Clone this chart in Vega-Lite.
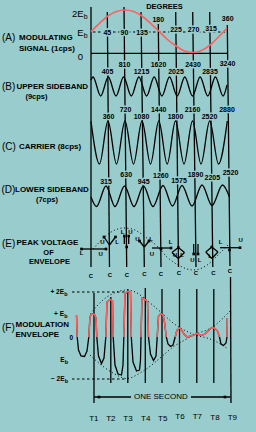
{
"$schema": "https://vega.github.io/schema/vega-lite/v6.json",
"width": 256, "height": 432,
"autosize": {"type": "fit", "contains": "padding"},
"padding": 0,
"background": "#99cccc",
"config": {"view": {"stroke": null}},
"datasets": {
"vl": [
{"x":91,"y":7,"x2":91,"y2":267},{"x":107.3,"y":12,"x2":109.5,"y2":267},{"x":124,"y":7,"x2":126.7,"y2":267},
{"x":141,"y":12,"x2":144.3,"y2":267},{"x":158.3,"y":24,"x2":161,"y2":267},{"x":175.7,"y":12,"x2":178.5,"y2":267},
{"x":192.7,"y":12,"x2":196,"y2":267},{"x":209.7,"y":12,"x2":212.8,"y2":267},{"x":227.3,"y":25,"x2":230,"y2":266},
{"x":94,"y":293,"x2":94,"y2":403},{"x":110.8,"y":297,"x2":110.8,"y2":383},{"x":127.8,"y":289,"x2":127.8,"y2":383},
{"x":145.3,"y":288,"x2":145.3,"y2":383},{"x":162,"y":289,"x2":162,"y2":383},{"x":179.5,"y":289,"x2":179.5,"y2":383},
{"x":196.8,"y":289,"x2":196.8,"y2":383},{"x":213.8,"y":289,"x2":213.8,"y2":383},{"x":230.5,"y":277,"x2":231,"y2":403}
],
"solid": [
{"x":91,"y":53.3,"x2":227.5,"y2":53.3},
{"x":91,"y":249,"x2":81.5,"y2":249},{"x":91,"y":249,"x2":106,"y2":249},
{"x":109.5,"y":245,"x2":104,"y2":237},{"x":109.5,"y":245,"x2":115.5,"y2":237},
{"x":124.3,"y":244,"x2":124.3,"y2":236},{"x":128.7,"y":244,"x2":128.7,"y2":236},
{"x":144.3,"y":247,"x2":139.5,"y2":241},{"x":144.3,"y":247,"x2":149,"y2":241},
{"x":161,"y":248,"x2":152,"y2":248},{"x":161,"y":248,"x2":171,"y2":248},
{"x":178.3,"y":247.5,"x2":172,"y2":252.5},{"x":172,"y":252.5,"x2":178.3,"y2":258.5},{"x":178.3,"y":258.5,"x2":184.5,"y2":252.5},{"x":184.5,"y":252.5,"x2":178.3,"y2":247.5},
{"x":193.7,"y":244,"x2":193.7,"y2":254},{"x":198,"y":244,"x2":198,"y2":254},
{"x":211.8,"y":247,"x2":205.8,"y2":252},{"x":205.8,"y":252,"x2":211.8,"y2":258.5},{"x":211.8,"y":258.5,"x2":218,"y2":252},{"x":218,"y":252,"x2":211.8,"y2":247},
{"x":230,"y":247.7,"x2":220,"y2":247.7},{"x":230,"y":247.7,"x2":240,"y2":247.7},
{"x":94,"y":397,"x2":131,"y2":397},{"x":191,"y":397,"x2":230.5,"y2":397}
],
"dash": [
{"x":93,"y":32,"x2":225,"y2":32},{"x":72,"y":292,"x2":129,"y2":292},{"x":72,"y":379,"x2":128,"y2":379}
],
"sineA": [
{"x":91,"y":31.5},{"x":99.5,"y":23.3},{"x":108,"y":16},{"x":116.5,"y":11.5},{"x":125,"y":10},{"x":133.5,"y":11.5},
{"x":142,"y":16},{"x":150.5,"y":23.3},{"x":159,"y":31.3},{"x":167.5,"y":39.5},{"x":176,"y":46},{"x":184.5,"y":51},
{"x":193,"y":52.5},{"x":201.5,"y":50.5},{"x":210,"y":45},{"x":218.5,"y":37},{"x":227,"y":28}
],
"waveB": [
{"x":91,"y":80},{"x":93,"y":77},{"x":100.7,"y":96},{"x":108.3,"y":77},{"x":116,"y":96},{"x":123.6,"y":77},
{"x":131.3,"y":96},{"x":138.9,"y":77},{"x":146.6,"y":96},{"x":154.2,"y":77},{"x":161.9,"y":96},{"x":169.5,"y":77},
{"x":177.2,"y":96},{"x":184.8,"y":77},{"x":192.5,"y":96},{"x":200.1,"y":77},{"x":207.8,"y":96},{"x":215.4,"y":77},
{"x":223.1,"y":96},{"x":227,"y":85}
],
"waveC": [
{"x":91,"y":121.5},{"x":99.5,"y":164},{"x":108,"y":121},{"x":116.5,"y":164},{"x":125,"y":121},{"x":133.5,"y":164},
{"x":142,"y":121},{"x":150.5,"y":164},{"x":158.8,"y":121},{"x":167.2,"y":164},{"x":175.5,"y":121},{"x":184,"y":164},
{"x":192.5,"y":121},{"x":201,"y":164},{"x":209.7,"y":121},{"x":218.5,"y":164},{"x":227.3,"y":121}
],
"waveD": [
{"x":91,"y":197},{"x":96.5,"y":206.5},{"x":106,"y":186},{"x":115,"y":206.5},{"x":124.5,"y":186},{"x":134,"y":206.5},
{"x":143.5,"y":186},{"x":153,"y":206.5},{"x":163,"y":185.5},{"x":172.5,"y":206},{"x":182,"y":185.5},{"x":192,"y":206},
{"x":202,"y":185},{"x":212,"y":205.5},{"x":222.5,"y":185},{"x":229.5,"y":197}
],
"waveF": [
{"x":76.5,"y":315},{"x":77.2,"y":337},{"x":78.5,"y":350},{"x":81,"y":356},{"x":84.5,"y":356.5},{"x":87,"y":351},
{"x":88.8,"y":337},{"x":90,"y":317},{"x":91.5,"y":314},{"x":94.5,"y":314.5},{"x":96,"y":318},{"x":96.8,"y":337},
{"x":98.5,"y":356},{"x":101.5,"y":363.5},{"x":104,"y":358},{"x":105.8,"y":337},{"x":107,"y":302},{"x":110,"y":299.5},
{"x":112.5,"y":301},{"x":113.2,"y":337},{"x":115,"y":365},{"x":118,"y":374},{"x":121.5,"y":375},{"x":123,"y":365},
{"x":123.8,"y":337},{"x":125,"y":294},{"x":127.5,"y":291.5},{"x":130.5,"y":292.5},{"x":131.3,"y":337},{"x":133,"y":362},
{"x":136.5,"y":371},{"x":139.5,"y":370},{"x":140.5,"y":360},{"x":141,"y":337},{"x":142,"y":298},{"x":145,"y":299.5},
{"x":147.5,"y":302},{"x":148.5,"y":337},{"x":150.5,"y":354},{"x":153.5,"y":360.5},{"x":156,"y":356},{"x":157.2,"y":337},
{"x":158.5,"y":316},{"x":161,"y":313.5},{"x":163,"y":315},{"x":164.5,"y":322},{"x":166.3,"y":337},{"x":168,"y":344},
{"x":170.5,"y":346.5},{"x":173,"y":345},{"x":175.2,"y":337},{"x":177,"y":330},{"x":179.5,"y":328},{"x":181.5,"y":330},
{"x":184,"y":334},{"x":187,"y":337},{"x":190,"y":336},{"x":194,"y":335},{"x":197,"y":333.5},{"x":201,"y":335.5},
{"x":205,"y":334},{"x":209,"y":330},{"x":212,"y":327.5},{"x":215,"y":328.5},{"x":217.5,"y":331},{"x":219.5,"y":337},
{"x":221,"y":344},{"x":223.5,"y":345.5},{"x":226,"y":343},{"x":227,"y":337},{"x":227.3,"y":318}
],
"redF": [
{"s":1,"x":76.5,"y":315},{"s":1,"x":77.2,"y":337},
{"s":2,"x":88.8,"y":337},{"s":2,"x":90,"y":317},{"s":2,"x":91.5,"y":314},{"s":2,"x":94.5,"y":314.5},{"s":2,"x":96,"y":318},{"s":2,"x":96.8,"y":337},
{"s":3,"x":105.8,"y":337},{"s":3,"x":107,"y":302},{"s":3,"x":110,"y":299.5},{"s":3,"x":112.5,"y":301},{"s":3,"x":113.2,"y":337},
{"s":4,"x":123.8,"y":337},{"s":4,"x":125,"y":294},{"s":4,"x":127.5,"y":291.5},{"s":4,"x":130.5,"y":292.5},{"s":4,"x":131.3,"y":337},
{"s":5,"x":141,"y":337},{"s":5,"x":142,"y":298},{"s":5,"x":145,"y":299.5},{"s":5,"x":147.5,"y":302},{"s":5,"x":148.5,"y":337},
{"s":6,"x":157.2,"y":337},{"s":6,"x":158.5,"y":316},{"s":6,"x":161,"y":313.5},{"s":6,"x":163,"y":315},{"s":6,"x":164.5,"y":322},{"s":6,"x":166.3,"y":337},
{"s":7,"x":175.2,"y":337},{"s":7,"x":177,"y":330},{"s":7,"x":179.5,"y":328},{"s":7,"x":181.5,"y":330},{"s":7,"x":184,"y":334},{"s":7,"x":187,"y":337},
{"s":7,"x":190,"y":336},{"s":7,"x":194,"y":335},{"s":7,"x":197,"y":333.5},{"s":7,"x":201,"y":335.5},{"s":7,"x":205,"y":334},{"s":7,"x":209,"y":330},
{"s":7,"x":212,"y":327.5},{"s":7,"x":215,"y":328.5},{"s":7,"x":217.5,"y":331},{"s":7,"x":219.5,"y":337},
{"s":8,"x":227,"y":337},{"s":8,"x":227.3,"y":318}
],
"envE": [
{"x":93,"y":249},{"x":99.5,"y":242},{"x":107,"y":235},{"x":115,"y":230},{"x":123.5,"y":228},{"x":132,"y":229},
{"x":140,"y":233},{"x":148,"y":239},{"x":157,"y":246},{"x":167,"y":257},{"x":180,"y":266},{"x":193,"y":270},
{"x":206.5,"y":265.5},{"x":218,"y":255},{"x":230,"y":243}
],
"envF": [
{"s":"u","x":90.5,"y":314},{"s":"u","x":97,"y":306},{"s":"u","x":103,"y":300},{"s":"u","x":112,"y":294},{"s":"u","x":120,"y":291},
{"s":"u","x":127.5,"y":290},{"s":"u","x":135,"y":292},{"s":"u","x":143,"y":297},{"s":"u","x":152,"y":304.5},{"s":"u","x":163,"y":314},
{"s":"u","x":175,"y":324.5},{"s":"u","x":187,"y":331.5},{"s":"u","x":197,"y":335.5},{"s":"u","x":207,"y":338},{"s":"u","x":217,"y":342},{"s":"u","x":228,"y":349},
{"s":"l","x":90,"y":355},{"s":"l","x":100,"y":364},{"s":"l","x":113,"y":373},{"s":"l","x":127,"y":378.5},{"s":"l","x":140,"y":373},
{"s":"l","x":153,"y":364},{"s":"l","x":163,"y":355.5},{"s":"l","x":173,"y":347},{"s":"l","x":183,"y":341},{"s":"l","x":190,"y":337},
{"s":"l","x":200,"y":332.5},{"s":"l","x":207,"y":330},{"s":"l","x":214,"y":326},{"s":"l","x":220,"y":321},{"s":"l","x":230,"y":311}
],
"tips": [
{"x":81.5,"y":249},{"x":106,"y":249},{"x":104,"y":237},{"x":115.5,"y":237},{"x":124.3,"y":236},{"x":128.7,"y":236},
{"x":139.5,"y":241},{"x":149,"y":241},{"x":171,"y":248},{"x":161,"y":249},{"x":193.7,"y":254},{"x":198,"y":254},
{"x":240,"y":247.7},{"x":178.3,"y":247.5},{"x":211.8,"y":247},{"x":126.7,"y":247},{"x":229.5,"y":250},
{"x":99,"y":397},{"x":225,"y":397}
],
"nums": [
{"t":"45","x":107.3,"y":32.5},{"t":"90","x":124.5,"y":32.5},{"t":"135","x":142,"y":32.5},{"t":"180","x":158.3,"y":20},
{"t":"225","x":176,"y":30},{"t":"270","x":193.5,"y":29.5},{"t":"315","x":211,"y":29},{"t":"360","x":227.7,"y":18.5},
{"t":"405","x":107.5,"y":71.5},{"t":"810","x":124.5,"y":64.5},{"t":"1215","x":141.5,"y":71.5},{"t":"1620","x":158.5,"y":64.5},
{"t":"2025","x":176,"y":71.5},{"t":"2430","x":193,"y":64.5},{"t":"2835","x":210,"y":71.5},{"t":"3240","x":227.5,"y":63.5},
{"t":"360","x":108.5,"y":116.5},{"t":"720","x":125.5,"y":110},{"t":"1080","x":141.5,"y":116.5},{"t":"1440","x":158.7,"y":110},
{"t":"1800","x":175.5,"y":116.5},{"t":"2160","x":192.5,"y":110},{"t":"2520","x":209.5,"y":116.5},{"t":"2880","x":227,"y":110},
{"t":"315","x":106,"y":181.5},{"t":"630","x":126.2,"y":175},{"t":"945","x":143.7,"y":181.5},{"t":"1260","x":160.8,"y":175.5},
{"t":"1575","x":179,"y":181},{"t":"1890","x":195.5,"y":175},{"t":"2205","x":212.3,"y":178},{"t":"2520","x":230.5,"y":172.5}
],
"titlesL": [
{"t":"MODULATING","x":19,"y":38},{"t":"SIGNAL (1cps)","x":19,"y":48.5},{"t":"UPPER SIDEBAND","x":16.5,"y":87},
{"t":"CARRIER (8cps)","x":19,"y":146.5},{"t":"LOWER SIDEBAND","x":15,"y":190},{"t":"PEAK VOLTAGE","x":16.5,"y":243},
{"t":"MODULATION","x":15.5,"y":325},{"t":"ENVELOPE","x":15.5,"y":334.5}
],
"titlesC": [
{"t":"(9cps)","x":36.5,"y":96.5},{"t":"(7cps)","x":47,"y":199.5},{"t":"OF","x":48.5,"y":252.5},{"t":"ENVELOPE","x":49.5,"y":261.5},
{"t":"DEGREES","x":164.5,"y":6.5}
],
"letters": [
{"t":"(A)","x":2,"y":38},{"t":"(B)","x":2,"y":87},{"t":"(C)","x":2,"y":146.5},{"t":"(D)","x":1.5,"y":190},
{"t":"(E)","x":2,"y":243.5},{"t":"(F)","x":2,"y":328}
],
"eLab": [
{"t":"L","x":81.7,"y":253},{"t":"U","x":100.7,"y":253.5},{"t":"U","x":102.5,"y":241.5},{"t":"L","x":117,"y":242},
{"t":"L","x":122.5,"y":232},{"t":"U","x":130.5,"y":232},{"t":"U","x":137.5,"y":238.5},{"t":"L","x":151,"y":238.5},
{"t":"U","x":152,"y":254},{"t":"L","x":170.5,"y":242},{"t":"U","x":175,"y":255},{"t":"L","x":182,"y":255},
{"t":"U","x":192.5,"y":259.5},{"t":"L","x":199.5,"y":259.5},{"t":"L","x":210,"y":256},{"t":"L","x":220.5,"y":241.5},
{"t":"U","x":240.7,"y":240},
{"t":"C","x":91,"y":275.5},{"t":"C","x":110,"y":274.5},{"t":"C","x":126.8,"y":274.5},{"t":"C","x":144.5,"y":273.5},
{"t":"C","x":161,"y":273.5},{"t":"C","x":179,"y":273},{"t":"C","x":196,"y":272.5},{"t":"C","x":213.3,"y":272.5},{"t":"C","x":230,"y":271}
],
"ebA": [
{"t":"2E","x":83.5,"y":13.5},{"t":"E","x":83.5,"y":33},{"t":"0","x":83,"y":56.5}
],
"ebAsub": [
{"t":"b","x":83.7,"y":16.5},{"t":"b","x":83.7,"y":35.5}
],
"ebF": [
{"t":"+ 2E","x":64,"y":292},{"t":"+ E","x":64,"y":314},{"t":"0","x":73,"y":337.5},{"t":"E","x":64.5,"y":359.5},{"t":"− 2E","x":64.5,"y":379}
],
"ebFsub": [
{"t":"b","x":64.2,"y":294},{"t":"b","x":64.2,"y":316},{"t":"b","x":64.7,"y":361.5},{"t":"b","x":64.7,"y":381}
],
"tlab": [
{"t":"T1","x":93.8,"y":418.5},{"t":"T2","x":110.8,"y":418.5},{"t":"T3","x":128,"y":418.5},{"t":"T4","x":145.7,"y":418.5},
{"t":"T5","x":162.7,"y":418.5},{"t":"T6","x":180,"y":417},{"t":"T7","x":197.3,"y":417},{"t":"T8","x":215,"y":418},
{"t":"T9","x":232.3,"y":417.5},{"t":"ONE SECOND","x":160.8,"y":397}
]
},
"encoding": {
"x": {"field": "x", "type": "quantitative", "scale": {"domain": [0, 256], "nice": false, "zero": false}, "axis": null},
"y": {"field": "y", "type": "quantitative", "scale": {"domain": [0, 432], "reverse": true, "nice": false, "zero": false}, "axis": null}
},
"layer": [
{"data": {"name": "vl"}, "mark": {"type": "rule", "color": "#000", "strokeWidth": 1.3},
 "encoding": {"x2": {"field": "x2"}, "y2": {"field": "y2"}}},
{"data": {"name": "dash"}, "mark": {"type": "rule", "color": "#000", "strokeWidth": 1, "strokeDash": [2.5, 2.5]},
 "encoding": {"x2": {"field": "x2"}, "y2": {"field": "y2"}}},
{"data": {"name": "solid"}, "mark": {"type": "rule", "color": "#000", "strokeWidth": 1.3},
 "encoding": {"x2": {"field": "x2"}, "y2": {"field": "y2"}}},
{"data": {"name": "envE"}, "mark": {"type": "line", "color": "#000", "strokeWidth": 1, "strokeDash": [1, 2.5], "interpolate": "monotone"}, "encoding": {}},
{"data": {"name": "envF"}, "mark": {"type": "line", "color": "#000", "strokeWidth": 1, "strokeDash": [1, 2.5], "interpolate": "monotone"},
 "encoding": {"detail": {"field": "s"}}},
{"data": {"name": "nums"}, "mark": {"type": "text", "font": "Liberation Sans", "fontWeight": "bold", "fontSize": 7, "align": "center", "baseline": "middle", "stroke": "#99cccc", "strokeWidth": 3},
 "encoding": {"text": {"field": "t"}}},
{"data": {"name": "nums"}, "mark": {"type": "text", "font": "Liberation Sans", "fontWeight": "bold", "fontSize": 7, "align": "center", "baseline": "middle", "color": "#000"},
 "encoding": {"text": {"field": "t"}}},
{"data": {"name": "sineA"}, "mark": {"type": "line", "color": "#ff5f5f", "strokeWidth": 1.6, "interpolate": "monotone"}, "encoding": {}},
{"data": {"name": "waveB"}, "mark": {"type": "line", "color": "#000", "strokeWidth": 1.3, "interpolate": "monotone"}, "encoding": {}},
{"data": {"name": "waveC"}, "mark": {"type": "line", "color": "#000", "strokeWidth": 1.3, "interpolate": "monotone"}, "encoding": {}},
{"data": {"name": "waveD"}, "mark": {"type": "line", "color": "#000", "strokeWidth": 1.3, "interpolate": "monotone"}, "encoding": {}},
{"data": {"name": "waveF"}, "mark": {"type": "line", "color": "#000", "strokeWidth": 1.3}, "encoding": {}},
{"data": {"name": "redF"}, "mark": {"type": "line", "color": "#ff5f5f", "strokeWidth": 1.6},
 "encoding": {"detail": {"field": "s"}}},
{"data": {"name": "tips"}, "mark": {"type": "point", "shape": "square", "filled": true, "color": "#000", "size": 7, "opacity": 1}, "encoding": {}},
{"data": {"name": "titlesL"}, "mark": {"type": "text", "font": "Liberation Sans", "fontWeight": "bold", "fontSize": 8, "align": "left", "baseline": "middle", "color": "#000"},
 "encoding": {"text": {"field": "t"}}},
{"data": {"name": "titlesC"}, "mark": {"type": "text", "font": "Liberation Sans", "fontWeight": "bold", "fontSize": 7.5, "align": "center", "baseline": "middle", "color": "#000"},
 "encoding": {"text": {"field": "t"}}},
{"data": {"name": "letters"}, "mark": {"type": "text", "font": "Liberation Sans", "fontSize": 10, "align": "left", "baseline": "middle", "color": "#000"},
 "encoding": {"text": {"field": "t"}}},
{"data": {"name": "eLab"}, "mark": {"type": "text", "font": "Liberation Sans", "fontWeight": "bold", "fontSize": 6, "align": "center", "baseline": "middle", "color": "#000"},
 "encoding": {"text": {"field": "t"}}},
{"data": {"name": "ebA"}, "mark": {"type": "text", "font": "Liberation Sans", "fontSize": 9.5, "align": "right", "baseline": "middle", "color": "#000"},
 "encoding": {"text": {"field": "t"}}},
{"data": {"name": "ebAsub"}, "mark": {"type": "text", "font": "Liberation Sans", "fontSize": 7, "align": "left", "baseline": "middle", "color": "#000"},
 "encoding": {"text": {"field": "t"}}},
{"data": {"name": "ebF"}, "mark": {"type": "text", "font": "Liberation Sans", "fontWeight": "bold", "fontSize": 6.5, "align": "right", "baseline": "middle", "color": "#000"},
 "encoding": {"text": {"field": "t"}}},
{"data": {"name": "ebFsub"}, "mark": {"type": "text", "font": "Liberation Sans", "fontWeight": "bold", "fontSize": 5.5, "align": "left", "baseline": "middle", "color": "#000"},
 "encoding": {"text": {"field": "t"}}},
{"data": {"name": "tlab"}, "mark": {"type": "text", "font": "Liberation Sans", "fontSize": 8, "align": "center", "baseline": "middle", "color": "#000"},
 "encoding": {"text": {"field": "t"}}}
]
}
